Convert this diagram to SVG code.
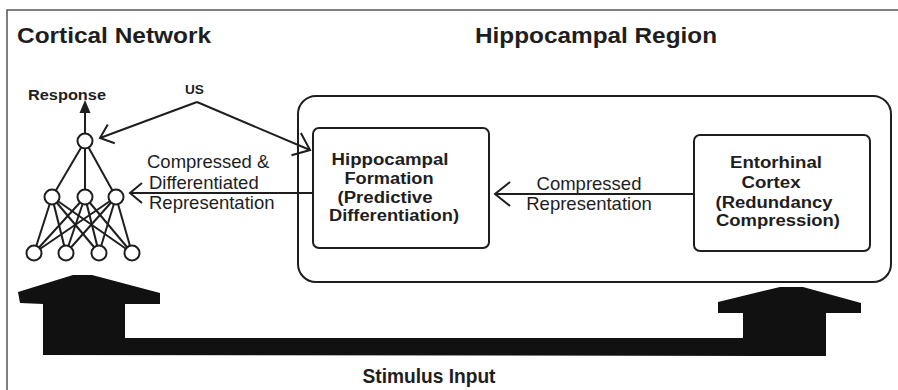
<svg xmlns="http://www.w3.org/2000/svg" width="898" height="390" viewBox="0 0 898 390">
<defs>
<style>
text{font-family:"Liberation Sans",Arial,sans-serif;fill:#1e1e1e}
.title{font-size:22px;font-weight:bold}
.lbl{font-size:18.5px}
.box{font-size:16px;font-weight:bold;text-anchor:middle}
.ln{stroke:#1e1e1e;stroke-width:2;fill:none}
.node{fill:#fff;stroke:#1e1e1e;stroke-width:2}
.frame{stroke:#555;stroke-width:1.5;fill:none}
</style>
<marker id="chev" viewBox="-16 -12 20 24" markerWidth="20" markerHeight="24" refX="0" refY="0" orient="auto" markerUnits="userSpaceOnUse">
<path d="M-12,-10 L0,0 L-12,10" fill="none" stroke="#1e1e1e" stroke-width="2"/>
</marker>
<marker id="chevL" viewBox="-20 -14 24 28" markerWidth="24" markerHeight="28" refX="0" refY="0" orient="auto" markerUnits="userSpaceOnUse">
<path d="M-15,-12 L0,0 L-15,12" fill="none" stroke="#1e1e1e" stroke-width="2"/>
</marker>
</defs>
<rect width="898" height="390" fill="#fff"/>
<path class="frame" d="M7,390 L7,10 L898,10"/>

<text class="title" x="17" y="43" textLength="194" lengthAdjust="spacingAndGlyphs">Cortical Network</text>
<text class="title" x="475" y="43" textLength="242" lengthAdjust="spacingAndGlyphs">Hippocampal Region</text>

<g id="connectors">
<g class="ln">
<line x1="85" y1="141" x2="52" y2="197"/>
<line x1="85" y1="141" x2="85" y2="197"/>
<line x1="85" y1="141" x2="116" y2="197"/>
<line x1="52" y1="197" x2="34" y2="253"/>
<line x1="52" y1="197" x2="66" y2="253"/>
<line x1="52" y1="197" x2="99" y2="253"/>
<line x1="52" y1="197" x2="132" y2="253"/>
<line x1="85" y1="197" x2="34" y2="253"/>
<line x1="85" y1="197" x2="66" y2="253"/>
<line x1="85" y1="197" x2="99" y2="253"/>
<line x1="85" y1="197" x2="132" y2="253"/>
<line x1="116" y1="197" x2="34" y2="253"/>
<line x1="116" y1="197" x2="66" y2="253"/>
<line x1="116" y1="197" x2="99" y2="253"/>
<line x1="116" y1="197" x2="132" y2="253"/>
<line x1="85" y1="134" x2="85" y2="110"/>
</g>
<polygon points="85,100 79.5,113 90.5,113" fill="#1e1e1e"/>
<line class="ln" x1="197" y1="102" x2="100" y2="138" marker-end="url(#chev)"/>
<line class="ln" x1="197" y1="102" x2="310" y2="150" marker-end="url(#chevL)"/>
<line class="ln" x1="313" y1="193" x2="130" y2="193" marker-end="url(#chev)"/>
<line class="ln" x1="694" y1="194" x2="495" y2="194" marker-end="url(#chevL)"/>
<polygon fill="#111" points="20,303 18,292 73,275 92,275 160,293 160,304 125,304 125,338 743,338 743,313 718,313 718,302 780,287 803,287 861,303 861,313 826,313 826,356 43,355 43,304"/>
</g>

<g id="network">
<circle class="node" cx="85" cy="141" r="7.5"/>
<circle class="node" cx="52" cy="197" r="7.5"/>
<circle class="node" cx="85" cy="197" r="7.5"/>
<circle class="node" cx="116" cy="197" r="7.5"/>
<circle class="node" cx="34" cy="253" r="7.5"/>
<circle class="node" cx="66" cy="253" r="7.5"/>
<circle class="node" cx="99" cy="253" r="7.5"/>
<circle class="node" cx="132" cy="253" r="7.5"/>
</g>

<g id="labels">
<text x="28" y="100" font-size="14" font-weight="bold" textLength="78" lengthAdjust="spacingAndGlyphs">Response</text>
<text x="185" y="94" font-size="13.5" font-weight="bold" textLength="19" lengthAdjust="spacingAndGlyphs">US</text>
<text class="lbl" x="147" y="168">Compressed &amp;</text>
<text class="lbl" x="149" y="189">Differentiated</text>
<text class="lbl" x="149" y="209">Representation</text>
<text class="lbl" x="589" y="190" text-anchor="middle">Compressed</text>
<text class="lbl" x="589" y="210" text-anchor="middle">Representation</text>
<text x="429" y="383" font-size="20" font-weight="bold" text-anchor="middle" textLength="133" lengthAdjust="spacingAndGlyphs">Stimulus Input</text>
</g>

<g id="hippocampal-region">
<rect x="298" y="96" width="593" height="186" rx="18" class="ln"/>
</g>

<g id="hippocampal-formation">
<rect x="313" y="128" width="176" height="120" rx="6" class="ln" fill="#fff"/>
<text class="box" x="390" y="165" textLength="117" lengthAdjust="spacingAndGlyphs">Hippocampal</text>
<text class="box" x="389" y="184" textLength="89" lengthAdjust="spacingAndGlyphs">Formation</text>
<text class="box" x="385" y="203" textLength="95" lengthAdjust="spacingAndGlyphs">(Predictive</text>
<text class="box" x="394" y="221" textLength="130" lengthAdjust="spacingAndGlyphs">Differentiation)</text>
</g>

<g id="entorhinal-cortex">
<rect x="694" y="135" width="176" height="116" rx="6" class="ln"/>
<text class="box" x="776" y="168" textLength="92" lengthAdjust="spacingAndGlyphs">Entorhinal</text>
<text class="box" x="771" y="188" textLength="59" lengthAdjust="spacingAndGlyphs">Cortex</text>
<text class="box" x="774" y="208" textLength="117" lengthAdjust="spacingAndGlyphs">(Redundancy</text>
<text class="box" x="778" y="226" textLength="124" lengthAdjust="spacingAndGlyphs">Compression)</text>
</g>
</svg>
